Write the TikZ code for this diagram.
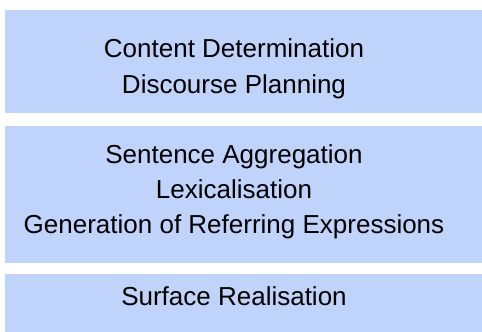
\documentclass[tikz,border=0pt]{standalone}
\usepackage{fontspec}
\setmainfont{Liberation Sans}
\definecolor{boxblue}{RGB}{192,211,250}
\begin{document}
\begin{tikzpicture}[x=1pt,y=1pt,
  stage/.style={fill=boxblue, draw=none, inner sep=0pt, anchor=north west},
  label/.style={anchor=base, inner sep=0pt, font=\fontsize{26}{26}\selectfont}]
\useasboundingbox (0,0) rectangle (482,-332);
\fill[white] (0,0) rectangle (482,-332);
\node[stage, minimum width=477pt, minimum height=103pt] (b1) at (5,-10) {};
\node[stage, minimum width=477pt, minimum height=137pt] (b2) at (5,-126) {};
\node[stage, minimum width=477pt, minimum height=68pt] (b3) at (5,-274) {};
\node[label] (t11) at (234,-57) {Content Determination};
\node[label] (t12) at (234,-93) {Discourse Planning};
\node[label] (t21) at (234,-163) {Sentence Aggregation};
\node[label] (t22) at (234,-198) {Lexicalisation};
\node[label] (t23) at (234,-233) {Generation of Referring Expressions};
\node[label] (t31) at (234,-305) {Surface Realisation};
\end{tikzpicture}
\end{document}
